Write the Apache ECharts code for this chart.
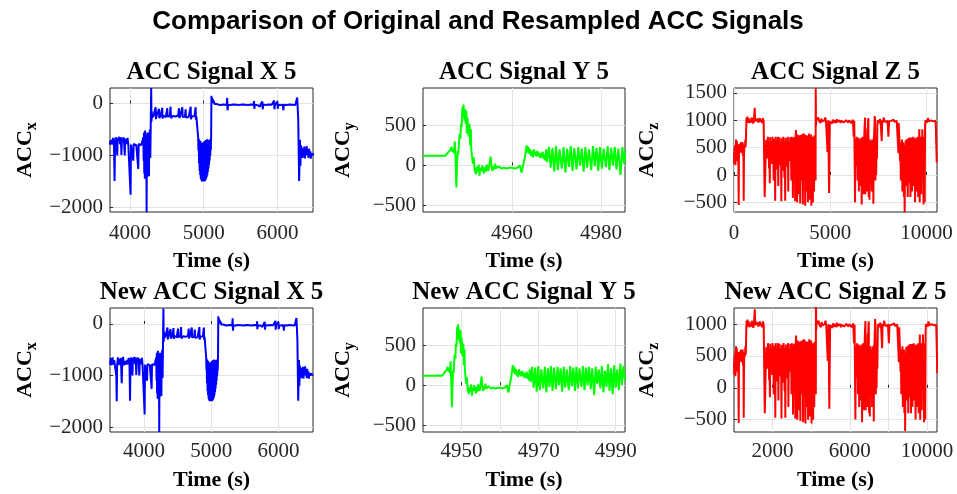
<!DOCTYPE html>
<html>
<head>
<meta charset="utf-8">
<script src="https://cdn.jsdelivr.net/npm/echarts@6/dist/echarts.min.js"></script>
<style>
html,body{margin:0;padding:0;background:#fff;}
#chart{width:957px;height:494px;}
</style>
</head>
<body>
<div id="chart"></div>
<script>
// ---------------- DATA ----------------
// ACC X (time in s, value)
const X_TIME = [3494,3505,3512,3522,3532,3545,3556,3566,3578,3588,3594,3600,3612,3622,3634,3645,3656,3668,3676,3688,3700,3712,3724,3736,3748,3760,3772,3784,3792,3798,3808,3818,3828,3834,3846,3856,3866,3876,3885,3892,3904,3914,3922,3930,3936,3948,3958,3968,3978,3990,4000,4009,4014,4026,4038,4045,4050,4062,4074,4086,4098,4106,4113,4118,4130,4142,4154,4166,4176,4182,4186,4190,4194,4198,4202,4206,4210,4214,4218,4222,4226,4230,4234,4238,4242,4246,4250,4254,4258,4262,4266,4270,4276,4282,4288,4292,4296,4300,4306,4315,4325,4335,4348,4352,4360,4370,4380,4393,4397,4405,4415,4425,4438,4442,4450,4462,4472,4485,4495,4506,4510,4520,4530,4540,4551,4555,4565,4580,4592,4605,4618,4630,4642,4652,4664,4668,4680,4692,4701,4710,4714,4725,4735,4745,4755,4759,4770,4782,4795,4808,4823,4827,4838,4850,4862,4874,4884,4890,4894,4900,4910,4918,4924,4928,4932,4936,4940,4944,4948,4952,4956,4960,4964,4968,4972,4976,4980,4984,4988,4992,4996,5000,5004,5008,5012,5016,5020,5024,5028,5032,5036,5040,5044,5048,5052,5056,5060,5064,5068,5072,5076,5080,5084,5088,5092,5096,5100,5104,5108,5112,5118,5124,5130,5138,5146,5155,5165,5178,5190,5205,5220,5235,5250,5265,5280,5295,5310,5318,5322,5330,5345,5360,5380,5400,5420,5440,5460,5480,5500,5520,5540,5560,5580,5600,5620,5640,5660,5676,5681,5685,5692,5710,5730,5750,5760,5770,5780,5794,5798,5805,5815,5825,5840,5860,5880,5900,5920,5940,5953,5957,5965,5980,5998,6002,6010,6025,6040,6055,6070,6079,6083,6100,6120,6140,6160,6180,6200,6220,6240,6255,6266,6272,6280,6286,6292,6298,6304,6310,6316,6322,6330,6338,6346,6354,6362,6370,6378,6386,6394,6402,6410,6418,6426,6434,6442,6450,6458,6466,6474,6482,6490,6500,6512];
const X_ACC = [-790,-660,-800,-760,-650,-790,-700,-800,-770,-1000,-1500,-790,-650,-800,-680,-790,-660,-1150,-780,-640,-800,-720,-790,-800,-700,-790,-660,-800,-1490,-760,-650,-690,-1000,-660,-700,-640,-780,-650,-990,-660,-700,-650,-780,-1000,-680,-650,-780,-660,-790,-780,-800,-1756,-790,-760,-800,-1100,-780,-790,-770,-800,-780,-790,-1260,-780,-790,-770,-800,-780,-790,-650,-1100,-560,-1350,-600,-1450,-520,-1400,-600,-1300,-700,-2096,-650,-1420,-560,-1250,-620,-1100,-560,-1400,-700,-1000,-500,-1050,-400,300,-350,-150,-280,-200,-260,-230,-250,-70,-300,-240,-260,-230,-100,-280,-250,-240,-260,-80,-290,-230,-250,-240,-260,-230,-90,-260,-240,-250,-230,-60,-280,-250,-240,-260,-230,-250,-240,-260,-230,-90,-280,-240,-250,-240,-70,-260,-250,-230,-250,-110,-270,-240,-250,-260,-240,-60,-300,-250,-240,-260,-240,-250,-70,-310,-250,-240,-260,-650,-900,-680,-1150,-700,-1300,-750,-1380,-720,-1450,-800,-1480,-760,-1500,-820,-1490,-780,-1500,-740,-1480,-760,-1500,-720,-1490,-740,-1470,-700,-1450,-720,-1420,-690,-1380,-720,-1320,-700,-1250,-760,-1180,-700,-1100,-740,-1000,-680,-900,-650,150,20,110,40,80,10,50,-10,20,-20,-10,-25,-20,-30,-20,-25,-30,-20,-25,-30,110,-130,-25,-20,-30,-25,-20,-30,-25,-20,-30,-25,-20,-30,-25,-20,-30,-25,-20,-30,-25,50,-100,-25,-20,-30,-15,-60,-20,-40,40,-110,-20,-50,-10,-30,-25,-20,-30,-25,-20,60,-110,-25,-30,40,-100,-25,-20,-30,-25,-20,-130,-25,-20,-30,-25,-20,-30,-25,-20,-30,-25,115,-60,-300,-900,-1490,-1100,-700,-1200,-800,-1000,-850,-1050,-900,-1000,-830,-1060,-880,-1000,-820,-950,-900,-1050,-870,-1000,-920,-1060,-950,-1000,-980,-1020,-960,-1000,-990];

// ACC Y
const Y_TIME = [4940.0,4941.0,4942.0,4943.0,4944.0,4945.0,4945.3,4945.6,4945.9,4946.2,4946.4,4946.6,4946.8,4947.0,4947.15,4947.3,4947.5,4947.65,4947.8,4947.95,4948.1,4948.25,4948.4,4948.55,4948.7,4948.85,4948.95,4949.1,4949.25,4949.35,4949.5,4949.6,4949.75,4949.85,4950.0,4950.15,4950.3,4950.45,4950.6,4950.75,4950.85,4951.0,4951.2,4951.4,4951.6,4951.9,4952.1,4952.3,4952.5,4952.7,4952.9,4953.1,4953.3,4953.5,4953.7,4953.9,4954.1,4954.3,4954.5,4954.7,4954.9,4955.2,4955.4,4955.6,4955.8,4956.0,4956.2,4956.4,4956.6,4956.8,4957.0,4957.3,4957.6,4957.9,4958.2,4958.5,4958.8,4959.1,4959.4,4959.7,4960.0,4960.3,4960.6,4960.9,4961.2,4961.5,4961.8,4962.0,4962.2,4962.4,4962.6,4962.9,4963.1,4963.3,4963.5,4963.7,4963.9,4964.1,4964.3,4964.5,4964.7,4964.9,4965.1,4965.3,4965.5,4965.7,4965.9,4966.1,4966.3,4966.5,4966.7,4966.9,4967.1,4967.3,4967.5,4967.7,4967.9,4968.3,4968.7,4969.1,4969.5,4969.9,4970.3,4970.7,4971.2,4971.6,4972.0,4972.4,4972.8,4973.2,4973.6,4974.0,4974.5,4974.9,4975.3,4975.7,4976.1,4976.5,4976.9,4977.3,4977.8,4978.2,4978.6,4979.0,4979.4,4979.8,4980.2,4980.6,4981.1,4981.5,4981.9,4982.3,4982.7,4983.1,4983.5,4983.9,4984.4,4984.8,4985.2,4985.6,4986.0,4986.4,4986.8,4987.2,4987.6,4988.0,4988.4,4988.8,4989.2,4989.6,4990.0,4990.4,4990.8,4991.2,4991.6,4992.0,4992.4];
const Y_ACC = [120,120,119,120,121,120,125,160,140,200,230,170,210,150,300,100,-275,0,180,150,300,390,330,520,480,730,600,760,620,560,700,520,680,400,600,420,360,520,250,450,200,200,20,100,-50,-110,-20,-80,10,-130,-30,-70,0,-60,-100,-20,-80,10,-40,-70,0,110,-20,-70,-10,-50,20,-40,-20,-60,-10,-30,-40,-20,-30,-20,-40,-25,-30,-15,-30,-20,-40,-20,-30,-10,0,-60,-90,-20,30,100,180,250,160,230,140,200,120,180,100,200,130,170,110,180,120,160,90,150,100,170,80,140,60,200,40,230,-30,220,-80,240,-60,200,-40,230,-90,210,-20,240,-70,220,-50,230,0,210,-80,230,-30,200,-60,240,-10,220,-70,230,-40,210,-20,240,-60,220,0,230,-50,210,-120,230,20,200,-40,240,-90,180,-20,260,-70,210,-110,250,-30,200,-60,270,0,240,60];

// ACC Z
const Z_TIME = [0,15,30,45,60,75,90,105,120,135,150,165,180,200,220,244,255,270,290,310,330,350,370,390,410,430,450,470,490,504,515,530,550,570,590,610,630,650,680,700,720,760,800,840,880,920,960,1000,1040,1076,1100,1140,1180,1220,1260,1300,1340,1380,1420,1460,1500,1540,1580,1594,1610,1630,1650,1665,1680,1700,1720,1740,1760,1780,1800,1820,1840,1860,1880,1900,1920,1940,1960,1980,2000,2020,2040,2060,2080,2100,2120,2140,2160,2180,2200,2220,2240,2260,2280,2300,2320,2340,2360,2380,2400,2420,2440,2460,2480,2500,2520,2540,2560,2580,2600,2620,2640,2660,2680,2700,2720,2740,2760,2780,2800,2820,2840,2860,2880,2900,2920,2940,2960,2980,3000,3020,3040,3060,3080,3100,3120,3140,3160,3180,3200,3220,3240,3260,3280,3300,3320,3340,3360,3380,3400,3420,3440,3460,3480,3500,3520,3540,3560,3580,3600,3620,3640,3660,3680,3700,3720,3740,3760,3780,3800,3820,3840,3860,3880,3900,3920,3940,3960,3980,4000,4020,4040,4060,4080,4100,4120,4140,4160,4180,4200,4220,4240,4247,4260,4280,4300,4340,4380,4420,4460,4500,4540,4580,4620,4660,4700,4740,4780,4820,4860,4900,4940,4980,5020,5060,5100,5140,5180,5220,5260,5300,5340,5380,5420,5460,5500,5540,5580,5620,5660,5700,5740,5780,5820,5860,5900,5940,5980,6020,6060,6100,6140,6180,6220,6250,6270,6291,6305,6320,6335,6350,6365,6377,6395,6410,6425,6440,6455,6470,6490,6510,6530,6551,6570,6590,6610,6637,6655,6670,6690,6710,6724,6745,6770,6790,6811,6825,6840,6860,6880,6897,6915,6930,6950,6970,6984,7000,7020,7040,7060,7080,7100,7120,7140,7157,7180,7200,7220,7244,7260,7280,7300,7315,7330,7350,7370,7390,7410,7430,7450,7470,7504,7540,7580,7620,7677,7700,7740,7780,7820,7860,7900,7940,7980,8024,8060,8100,8140,8180,8220,8260,8300,8340,8380,8420,8460,8500,8544,8560,8580,8600,8630,8650,8670,8690,8710,8730,8750,8770,8790,8810,8830,8850,8870,8890,8910,8930,8950,8970,8990,9010,9030,9050,9070,9090,9110,9130,9150,9170,9190,9210,9230,9250,9270,9290,9310,9330,9350,9370,9390,9410,9430,9450,9470,9490,9510,9530,9550,9570,9590,9610,9630,9650,9670,9690,9710,9730,9750,9770,9790,9810,9830,9850,9870,9890,9910,9930,9950,10000,10040,10080,10120,10160,10200,10240,10280,10320,10360,10400,10440,10480,10510,10537];
const Z_ACC = [400,200,500,300,550,180,450,650,300,500,620,250,480,380,560,-550,300,480,560,420,580,460,600,400,560,500,600,350,520,-470,200,480,560,500,650,520,800,1050,950,1070,980,1040,950,1010,960,1050,990,940,1020,1230,980,1010,950,1030,960,1000,1040,970,1010,950,1040,980,1000,-400,-380,-400,-390,
600,640,450,560,300,700,520,610,120,560,
-150,690,400,620,560,520,200,700,480,590,
-100,660,350,600,-470,700,520,580,100,640,
420,700,-200,560,540,690,180,620,600,520,
-480,670,300,590,80,700,500,620,-50,560,
-470,680,350,600,150,640,550,700,-300,610,
450,560,250,690,600,530,-100,700,400,620,
-420,580,550,690,200,640,-480,700,820,400,
620,-500,740,200,680,-350,720,600,560,-520,
730,300,650,-100,700,750,-540,600,450,760,
100,680,-560,730,650,-300,620,500,720,-500,
660,200,760,-450,580,600,-200,740,-560,650,
350,700,-500,600,650,-300,720,250,640,-100,
1590,900,1000,1010,970,1050,990,1000,950,1030,980,1010,960,1000,1050,990,970,420,1000,-330,980,960,1000,940,1010,980,960,1000,950,1020,970,990,960,1000,950,990,970,1010,960,990,950,1000,970,990,960,1000,970,990,950,980,1010,700,990,960,-497,300,600,160,650,400,700,250,650,-100,600,300,680,-300,620,450,-200,650,300,680,-540,600,350,700,100,650,-350,700,900,1048,-350,500,-200,650,-300,600,850,700,1000,1040,-400,500,-450,650,200,600,-160,550,-300,650,300,600,-527,650,700,900,1079,1000,-100,600,0,700,300,900,1000,1000,950,1020,980,620,1000,960,1050,990,970,1010,960,1000,700,980,1010,950,990,1000,960,1010,970,1000,960,990,1010,400,950,980,600,250,600,-100,560,300,650,-300,580,200,600,-400,500,-679,550,100,640,-200,600,450,660,-400,550,300,680,-150,620,685,-400,600,200,685,-300,650,400,700,-200,680,100,650,-497,600,300,680,-300,650,200,700,-400,650,500,836,-500,600,300,700,-350,650,400,836,200,700,-540,500,700,-497,900,1000,1000,960,1040,980,1010,950,1000,970,1020,980,1000,960,990,970,230];

// time windows of the original and resampled signals (s)
const X_ORIG_RANGE = [3730, 6480], X_NEW_RANGE = [3494, 6512];
const Y_ORIG_RANGE = [4940, 4985.4], Y_NEW_RANGE = [4940, 4992.4];
const Z_ORIG_RANGE = [0, 10550], Z_NEW_RANGE = [0, 10520];
// value ranges
const X_ORIG_VRANGE = [-2090, 300], X_NEW_VRANGE = [-2097, 310];
const Y_ORIG_VRANGE = [-583, 967], Y_NEW_VRANGE = [-583, 964];
const Z_ORIG_VRANGE = [-676, 1590], Z_NEW_VRANGE = [-693, 1251];
// ticks
const X_ORIG_XTICKS = [4000, 5000, 6000], X_NEW_XTICKS = [4000, 5000, 6000];
const Y_ORIG_XTICKS = [4960, 4980], Y_NEW_XTICKS = [4950, 4960, 4970, 4980, 4990], Y_NEW_XLABELS = [4950, 4970, 4990];
const Z_ORIG_XTICKS = [0, 5000, 10000], Z_NEW_XTICKS = [2000, 4000, 6000, 8000, 10000], Z_NEW_XLABELS = [2000, 6000, 10000];
const X_YTICKS = [-2000, -1000, 0], Y_YTICKS = [-500, 0, 500];
const Z_ORIG_YTICKS = [-500, 0, 500, 1000, 1500], Z_NEW_YTICKS = [-500, 0, 500, 1000];

const TITLES = ['ACC Signal X 5', 'ACC Signal Y 5', 'ACC Signal Z 5', 'New ACC Signal X 5', 'New ACC Signal Y 5', 'New ACC Signal Z 5'];
const MAIN_TITLE = 'Comparison of Original and Resampled ACC Signals';

// ---------------- CHART ----------------
const SERIF = '"Liberation Serif","Times New Roman",serif';
const pairs = (t, v) => t.map((x, i) => [x, v[i]]);
const fmt = v => (v < 0 ? '\u2212' + String(-v) : String(v));

const boxes = [
  {left: 110, top: 88, width: 203, height: 124},
  {left: 423, top: 88, width: 202, height: 124},
  {left: 734, top: 88, width: 203, height: 124},
  {left: 110, top: 308, width: 203, height: 124},
  {left: 423, top: 308, width: 202, height: 124},
  {left: 734, top: 308, width: 203, height: 124}
];

const panels = [
  {data: pairs(X_TIME, X_ACC), xr: X_ORIG_RANGE, yr: X_ORIG_VRANGE, xt: X_ORIG_XTICKS, xl: X_ORIG_XTICKS, yt: X_YTICKS, color: '#0000ff', sub: 'x', nameGap: 70},
  {data: pairs(Y_TIME, Y_ACC), xr: Y_ORIG_RANGE, yr: Y_ORIG_VRANGE, xt: Y_ORIG_XTICKS, xl: Y_ORIG_XTICKS, yt: Y_YTICKS, color: '#00ff00', sub: 'y', nameGap: 65},
  {data: pairs(Z_TIME, Z_ACC), xr: Z_ORIG_RANGE, yr: Z_ORIG_VRANGE, xt: Z_ORIG_XTICKS, xl: Z_ORIG_XTICKS, yt: Z_ORIG_YTICKS, color: '#ff0000', sub: 'z', nameGap: 72},
  {data: pairs(X_TIME, X_ACC), xr: X_NEW_RANGE, yr: X_NEW_VRANGE, xt: X_NEW_XTICKS, xl: X_NEW_XTICKS, yt: X_YTICKS, color: '#0000ff', sub: 'x', nameGap: 70},
  {data: pairs(Y_TIME, Y_ACC), xr: Y_NEW_RANGE, yr: Y_NEW_VRANGE, xt: Y_NEW_XTICKS, xl: Y_NEW_XLABELS, yt: Y_YTICKS, color: '#00ff00', sub: 'y', nameGap: 65},
  {data: pairs(Z_TIME, Z_ACC), xr: Z_NEW_RANGE, yr: Z_NEW_VRANGE, xt: Z_NEW_XTICKS, xl: Z_NEW_XLABELS, yt: Z_NEW_YTICKS, color: '#ff0000', sub: 'z', nameGap: 72}
];

const grid = [], xAxis = [], yAxis = [], series = [], graphic = [];
const tickColor = '#262626';

panels.forEach((p, i) => {
  const b = boxes[i];
  grid.push(Object.assign({show: true, borderColor: '#262626', borderWidth: 1, backgroundColor: '#fff'}, b));
  xAxis.push({
    type: 'value', gridIndex: i, min: p.xr[0], max: p.xr[1],
    axisLine: {show: false},
    axisTick: {show: true, inside: true, length: 3, customValues: p.xt, lineStyle: {color: tickColor}},
    splitLine: {show: true, lineStyle: {color: '#e3e3e3', width: 1}},
    axisLabel: {customValues: p.xl, formatter: fmt, fontFamily: SERIF, fontSize: 21, color: tickColor, margin: i < 3 ? 11 : 9},
    name: 'Time (s)', nameLocation: 'middle', nameGap: i < 3 ? 38 : 37,
    nameTextStyle: {fontFamily: SERIF, fontWeight: 'bold', fontSize: 22, color: '#000'}
  });
  yAxis.push({
    type: 'value', gridIndex: i, min: p.yr[0], max: p.yr[1],
    axisLine: {show: false},
    axisTick: {show: true, inside: true, length: 3, customValues: p.yt, lineStyle: {color: tickColor}},
    splitLine: {show: true, lineStyle: {color: '#e3e3e3', width: 1}},
    axisLabel: {customValues: p.yt, formatter: fmt, fontFamily: SERIF, fontSize: 21, color: tickColor, margin: 7},
    name: '{m|ACC}{s|' + p.sub + '}', nameLocation: 'middle', nameGap: p.nameGap, nameRotate: 90,
    nameTextStyle: {
      color: '#000',
      rich: {
        m: {fontFamily: SERIF, fontWeight: 'bold', fontSize: 22, color: '#000'},
        s: {fontFamily: SERIF, fontWeight: 'bold', fontSize: 16, color: '#000', padding: [14, 0, 0, 0]}
      }
    }
  });
  series.push({
    type: 'line', xAxisIndex: i, yAxisIndex: i, data: p.data,
    showSymbol: false, symbol: 'none', sampling: null, clip: true,
    lineStyle: {color: p.color, width: 2}, itemStyle: {color: p.color},
    animation: false, silent: true
  });
  graphic.push({
    type: 'text', x: b.left + b.width / 2, y: b.top - 15,
    style: {text: TITLES[i], fill: '#000', font: 'bold 25px ' + SERIF,
      align: 'center', verticalAlign: 'middle', textAlign: 'center', textVerticalAlign: 'middle'}
  });
});

graphic.push({
  type: 'text', x: 478, y: 22,
  style: {text: MAIN_TITLE, fill: '#000', font: 'bold 26px "Liberation Sans", Arial, sans-serif',
    align: 'center', verticalAlign: 'middle', textAlign: 'center', textVerticalAlign: 'middle'}
});

const chart = echarts.init(document.getElementById('chart'), null, {renderer: 'canvas'});
chart.setOption({
  animation: false,
  backgroundColor: '#fff',
  grid, xAxis, yAxis, series, graphic
});
</script>
</body>
</html>
